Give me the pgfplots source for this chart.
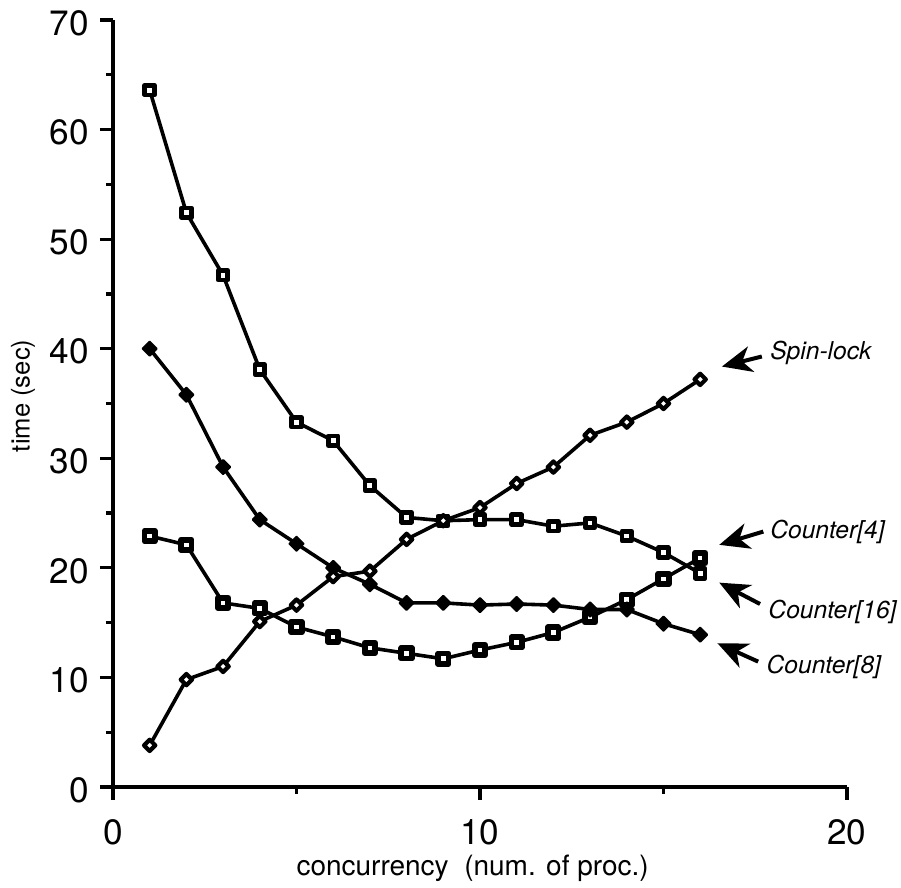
\documentclass[border=0pt]{standalone}
\usepackage{fontspec}
\setmainfont{TeX Gyre Heros}
\usepackage{pgfplots}
\pgfplotsset{compat=1.18}
\usetikzlibrary{arrows.meta,calc}

\begin{document}
\begin{tikzpicture}
\begin{axis}[
  name=ax, scale only axis, width=367pt, height=383.5pt,
  xmin=0, xmax=20, ymin=0, ymax=70,
  axis lines=left, axis line style={-, line width=1.8pt},
  xtick={0,10,20}, ytick={0,10,...,70}, minor tick num=1,
  tick align=outside, major tick length=6.5pt, minor tick length=3.5pt,
  every tick/.style={black, line width=1.6pt},
  /pgf/number format/assume math mode=true,
  tick label style={font=\fontsize{17.6}{20}\selectfont},
  xticklabel style={anchor=north, inner sep=0pt, yshift=-9.5pt},
  yticklabel style={anchor=east, inner sep=0pt, xshift=-5.5pt, yshift=-1.5pt},
  xlabel={concurrency\ \ (num. of proc.)},
  ylabel={time (sec)},
  xlabel style={font=\fontsize{14}{16}\selectfont, at={(axis description cs:0.49,-0.1056)}, anchor=center},
  ylabel style={font=\fontsize{12.8}{15}\selectfont, at={(axis description cs:-0.1226,0.51)}, anchor=center},
  clip=false,
  every axis plot/.append style={black, line width=1.8pt, line join=round},
]
% Counter[16]
\addplot[mark=square*, mark size=2.4pt, mark options={fill=white, line width=2.4pt}] coordinates {
  (1,63.6)(2,52.4)(3,46.7)(4,38.1)(5,33.3)(6,31.6)(7,27.5)(8,24.6)
  (9,24.3)(10,24.4)(11,24.4)(12,23.8)(13,24.1)(14,22.9)(15,21.4)(16,19.5)};
% Counter[4]
\addplot[mark=square*, mark size=2.6pt, mark options={fill=white, line width=2.9pt}] coordinates {
  (1,22.9)(2,22.1)(3,16.8)(4,16.3)(5,14.6)(6,13.7)(7,12.7)(8,12.2)
  (9,11.7)(10,12.5)(11,13.2)(12,14.1)(13,15.5)(14,17.1)(15,19.0)(16,20.9)};
% Counter[8]
\addplot[mark=square*, mark size=2.5pt, mark options={rotate=45, fill=black, line width=1pt}] coordinates {
  (1,40.0)(2,35.8)(3,29.2)(4,24.4)(5,22.2)(6,20.0)(7,18.5)(8,16.8)
  (9,16.8)(10,16.6)(11,16.7)(12,16.6)(13,16.2)(14,16.2)(15,14.9)(16,13.9)};
% Spin-lock
\addplot[mark=square*, mark size=2.0pt, mark options={rotate=45, fill=white, line width=2.1pt}] coordinates {
  (1,3.8)(2,9.8)(3,11.0)(4,15.1)(5,16.6)(6,19.2)(7,19.7)(8,22.6)
  (9,24.3)(10,25.5)(11,27.7)(12,29.2)(13,32.1)(14,33.3)(15,35.0)(16,37.2)};

% labels with arrows
\begin{scope}[line width=2pt, -{Stealth[length=15pt, width=13pt, inset=4.5pt]}]
\draw (axis cs:17.68,39.29) -- (axis cs:16.59,38.37);
\draw (axis cs:17.72,23.31) -- (axis cs:16.52,22.10);
\draw (axis cs:17.63,16.70) -- (axis cs:16.52,18.65);
\draw (axis cs:17.58,11.44) -- (axis cs:16.47,13.12);
\end{scope}
\begin{scope}[every node/.style={anchor=west, inner sep=0pt, font=\fontsize{12.3}{15}\selectfont\itshape}]
\node at (axis cs:17.9,39.6) {Spin-lock};
\node at (axis cs:17.9,23.3) {Counter[4]};
\node at (axis cs:17.85,16.0) {Counter[16]};
\node at (axis cs:17.8,11.0) {Counter[8]};
\end{scope}
\end{axis}
\path ($(ax.south west)+(-56.5pt,-48.5pt)$) rectangle ($(ax.south west)+(394pt,393.5pt)$);
\end{tikzpicture}
\end{document}
